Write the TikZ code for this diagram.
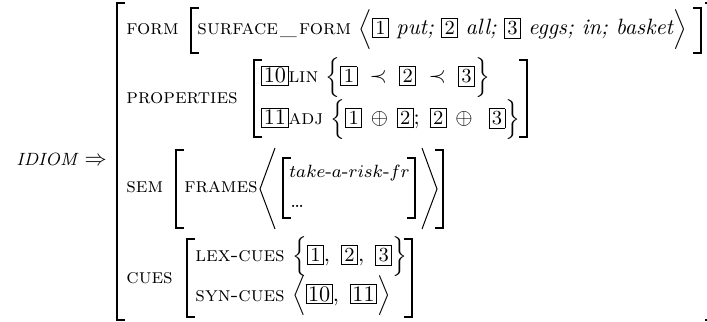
\documentclass[tikz,border=0pt]{standalone}
\usepackage{amsmath,amssymb}
\newcommand\nb[1]{{\setlength\fboxsep{1.1pt}\fbox{\small #1}}}
\newcommand\bb[1]{{\setlength\fboxsep{0.7pt}\fbox{#1}}}
\newcommand\scx[1]{{\fontsize{9.4}{11}\selectfont\textsc{#1}}}
\newcommand\lbrkt[3]{\draw[brk] ({#1+8},#2) -- (#1,#2) -- (#1,#3) -- ({#1+8},#3);}
\newcommand\rbrkt[3]{\draw[brk] ({#1-8},#2) -- (#1,#2) -- (#1,#3) -- ({#1-8},#3);}
\begin{document}
\begin{tikzpicture}[x=0.4507pt,y=-0.4507pt,
  brk/.style={line width=0.65pt},
  ang/.style={line width=0.45pt},
  txt/.style={inner sep=0pt, anchor=base west}]
\useasboundingbox (0,0) rectangle (707,322);
% IDIOM
\node[txt] (idiom) at (16,166) {{\footnotesize\itshape IDIOM}\ $\Rightarrow$};
% outer bracket
\lbrkt{117}{3}{320}
\rbrkt{713}{3}{320}
% FORM
\node[txt] (form) at (126,35) {\scx{form}};
\lbrkt{191}{8}{53}
\node[txt] (sf) at (197,35) {\scx{surface}\kern1pt\_\kern1pt\scx{form} $\Big\langle$\nb{1} \textit{put;} \nb{2} \textit{all;} \nb{3} \textit{eggs; in; basket}$\Big\rangle$};
\rbrkt{701}{8}{53}
% PROPERTIES
\node[txt] (prop) at (126,104) {\scx{properties}};
\lbrkt{254}{60}{137}
\node[txt] (lin) at (261,83) {\bb{10}\scx{lin} $\Big\{\nb{1}\;\prec\;\nb{2}\;\prec\;\nb{3}\Big\}$};
\node[txt] (adj) at (261,125) {\bb{11}\scx{adj} $\Big\{\nb{1}\,\oplus\,\nb{2};\;\nb{2}\,\oplus\ \,\nb{3}\Big\}$};
\rbrkt{527}{60}{137}
% SEM
\node[txt] (sem) at (126,193) {\scx{sem}};
\lbrkt{176}{150}{228}
\node[txt] (frames) at (184,193) {\scx{frames}};
\draw[ang] (275,148) -- (260,189) -- (275,229);
\lbrkt{283}{158}{218}
\node[txt] (take) at (289,178) {\fontsize{8.4}{10}\selectfont $take$-$a$-$risk$-$fr$};
\node[txt] (dots) at (290,208) {\small\ldots};
\rbrkt{415}{158}{218}
\draw[ang] (422,148) -- (437,189) -- (422,229);
\rbrkt{443}{150}{228}
% CUES
\node[txt] (cues) at (126,283) {\scx{cues}};
\lbrkt{187}{239}{317}
\node[txt] (lex) at (195,262) {\scx{lex-cues} $\Big\{\nb{1},\ \nb{2},\ \nb{3}\Big\}$};
\node[txt] (syn) at (195,301) {\scx{syn-cues} $\Big\langle\bb{10},\ \bb{11}\Big\rangle$};
\rbrkt{412}{239}{317}
\end{tikzpicture}
\end{document}
